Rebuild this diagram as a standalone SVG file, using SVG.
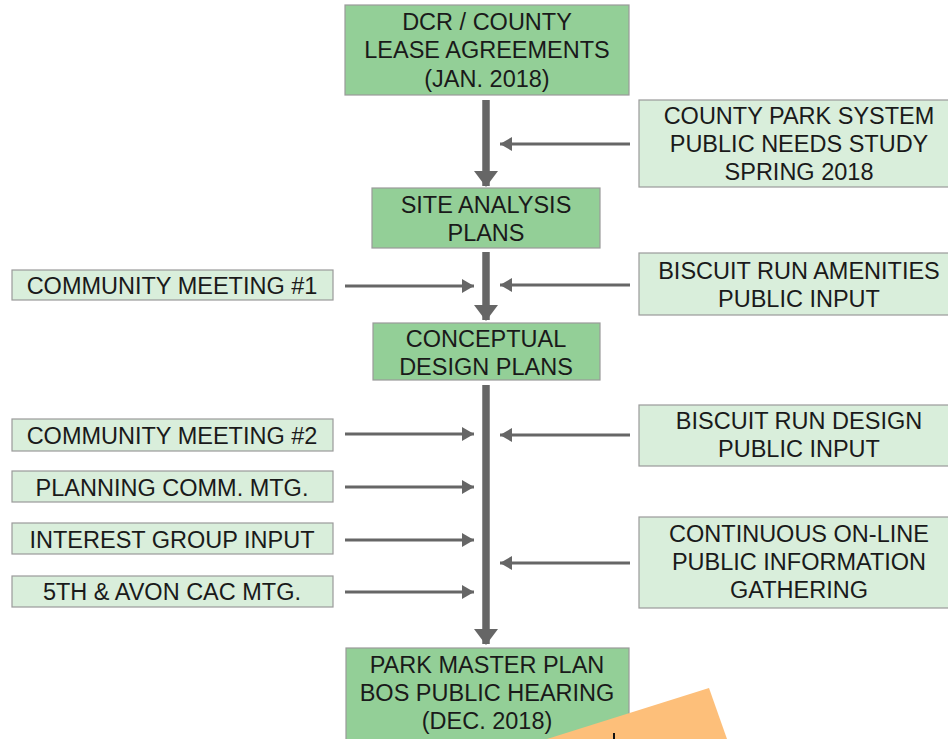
<svg xmlns="http://www.w3.org/2000/svg" width="948" height="739" viewBox="0 0 948 739">
<defs>
<style>
.main{fill:#93cf97;stroke:#9a9a9a;stroke-width:1.2}
.side{fill:#d9eedb;stroke:#9a9a9a;stroke-width:1.2}
text{font-family:"Liberation Sans",Arial,sans-serif;font-size:23.5px;fill:#1a1a1a;text-anchor:middle}
.thick{stroke:#666;stroke-width:7.5;fill:none}
.thin{stroke:#666;stroke-width:3;fill:none}
</style>
<marker id="big" viewBox="0 0 16 24" refX="15" refY="12" markerUnits="userSpaceOnUse" markerWidth="16" markerHeight="24" orient="auto">
<path d="M0,0 L16,12 L0,24 Z" fill="#666"/>
</marker>
<marker id="small" viewBox="0 0 12 14" refX="12" refY="7" markerUnits="userSpaceOnUse" markerWidth="12" markerHeight="14" orient="auto">
<path d="M0,0 L12,7 L0,14 Z" fill="#666"/>
</marker>
</defs>
<rect width="948" height="739" fill="#ffffff"/>
<g id="connectors">
<line class="thick" x1="486" y1="100" x2="486" y2="186" marker-end="url(#big)"/>
<line class="thick" x1="486" y1="252" x2="486" y2="320" marker-end="url(#big)"/>
<line class="thick" x1="486" y1="385" x2="486" y2="644" marker-end="url(#big)"/>
<line class="thin" x1="630" y1="144" x2="500" y2="144" marker-end="url(#small)"/>
<line class="thin" x1="345" y1="286" x2="474" y2="286" marker-end="url(#small)"/>
<line class="thin" x1="630" y1="285" x2="500" y2="285" marker-end="url(#small)"/>
<line class="thin" x1="345" y1="434" x2="474" y2="434" marker-end="url(#small)"/>
<line class="thin" x1="630" y1="435" x2="500" y2="435" marker-end="url(#small)"/>
<line class="thin" x1="345" y1="487" x2="474" y2="487" marker-end="url(#small)"/>
<line class="thin" x1="345" y1="540" x2="474" y2="540" marker-end="url(#small)"/>
<line class="thin" x1="630" y1="563" x2="500" y2="563" marker-end="url(#small)"/>
<line class="thin" x1="345" y1="592" x2="474" y2="592" marker-end="url(#small)"/>
</g>
<g id="dcr">
<rect class="main" x="345" y="5" width="284" height="90"/>
<text x="487" y="29.5">DCR / COUNTY</text>
<text x="487" y="58">LEASE AGREEMENTS</text>
<text x="487" y="86.5">(JAN. 2018)</text>
</g>
<g id="county-study">
<rect class="side" x="639" y="100" width="312" height="87"/>
<text x="799" y="124">COUNTY PARK SYSTEM</text>
<text x="799" y="152">PUBLIC NEEDS STUDY</text>
<text x="799" y="180">SPRING 2018</text>
</g>
<g id="site">
<rect class="main" x="372" y="188" width="228" height="60"/>
<text x="486" y="213">SITE ANALYSIS</text>
<text x="486" y="241">PLANS</text>
</g>
<g id="cm1">
<rect class="side" x="12" y="270" width="321" height="30"/>
<text x="172" y="294">COMMUNITY MEETING #1</text>
</g>
<g id="amenities">
<rect class="side" x="639" y="253" width="312" height="62"/>
<text x="799" y="279">BISCUIT RUN AMENITIES</text>
<text x="799" y="307">PUBLIC INPUT</text>
</g>
<g id="conceptual">
<rect class="main" x="373" y="323" width="227" height="57"/>
<text x="486" y="346.5">CONCEPTUAL</text>
<text x="486" y="374.5">DESIGN PLANS</text>
</g>
<g id="cm2">
<rect class="side" x="12" y="419" width="321" height="32"/>
<text x="172" y="444">COMMUNITY MEETING #2</text>
</g>
<g id="design-input">
<rect class="side" x="639" y="405" width="312" height="61"/>
<text x="799" y="429">BISCUIT RUN DESIGN</text>
<text x="799" y="457">PUBLIC INPUT</text>
</g>
<g id="planning">
<rect class="side" x="12" y="471" width="321" height="31"/>
<text x="172" y="496">PLANNING COMM. MTG.</text>
</g>
<g id="interest">
<rect class="side" x="12" y="523" width="321" height="31"/>
<text x="172" y="548">INTEREST GROUP INPUT</text>
</g>
<g id="online">
<rect class="side" x="639" y="517" width="312" height="91"/>
<text x="799" y="542">CONTINUOUS ON-LINE</text>
<text x="799" y="570">PUBLIC INFORMATION</text>
<text x="799" y="598">GATHERING</text>
</g>
<g id="avon">
<rect class="side" x="12" y="576" width="321" height="31"/>
<text x="172" y="600">5TH &amp; AVON CAC MTG.</text>
</g>
<g id="master">
<rect class="main" x="346" y="648" width="283" height="100"/>
<text x="487" y="673">PARK MASTER PLAN</text>
<text x="487" y="701">BOS PUBLIC HEARING</text>
<text x="487" y="729">(DEC. 2018)</text>
</g>
<polygon points="547,739 709,688 727,739" fill="#fdbf7a"/>
<line x1="614" y1="733" x2="614" y2="739" stroke="#111" stroke-width="2"/>
</svg>
